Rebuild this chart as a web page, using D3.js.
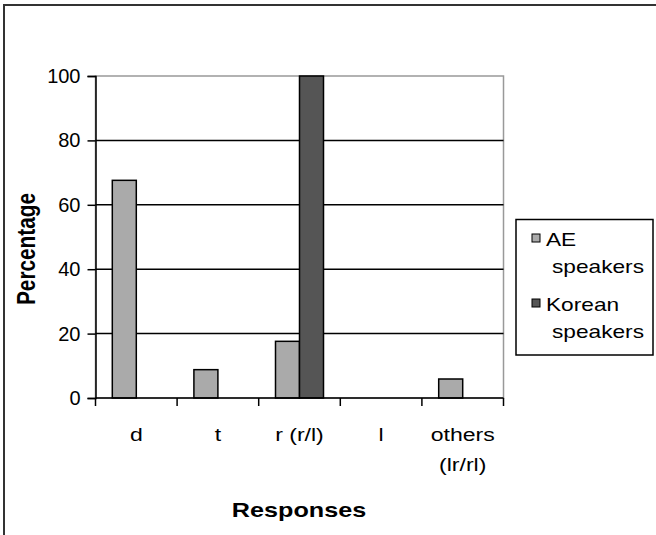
<!DOCTYPE html>
<html>
<head>
<meta charset="utf-8">
<script src="https://cdn.jsdelivr.net/npm/d3@7"></script>
<style>
  body { margin: 0; background: #fff; }
  text { font-family: "Liberation Sans", Arial, sans-serif; fill: #000; }
</style>
</head>
<body>
<div id="chart"></div>
<script>
var width = 656,
    height = 535;

// data
const categories = ["d", "t", "r (r/l)", "l", "others (lr/rl)"];
const series = ["AE speakers", "Korean speakers"];
const aeValues = [67.6, 8.8, 17.6, 0, 5.9];
const koreanValues = [0, 0, 100, 0, 0];
const yTicks = [0, 20, 40, 60, 80, 100];
const colors = ["#aaaaaa", "#555555"];

const plot = { left: 95.5, right: 503.5, top: 76, bottom: 398 };

var svg = d3.select("#chart")
    .append("svg")
    .attr("width", width)
    .attr("height", height);

// outer chart border (runs off the bottom/right edge)
svg.append("rect")
    .attr("x", 4).attr("y", 5)
    .attr("width", 700).attr("height", 600)
    .attr("fill", "none")
    .attr("stroke", "#333")
    .attr("stroke-width", 2);

var x = d3.scaleBand()
    .domain(categories)
    .range([plot.left, plot.right]);

var xSub = d3.scaleBand()
    .domain(series)
    .range([0, x.bandwidth()])
    .paddingOuter(0.7);

var y = d3.scaleLinear()
    .domain([0, 100])
    .range([plot.bottom, plot.top]);

// plot area frame (grey top/right)
svg.append("rect")
    .attr("x", plot.left).attr("y", plot.top)
    .attr("width", plot.right - plot.left)
    .attr("height", plot.bottom - plot.top)
    .attr("fill", "none")
    .attr("stroke", "#999")
    .attr("stroke-width", 1.5);

// gridlines
svg.append("g")
    .selectAll("line")
    .data(yTicks.filter(d => d > 0 && d < 100))
    .join("line")
    .attr("x1", plot.left).attr("x2", plot.right)
    .attr("y1", d => y(d)).attr("y2", d => y(d))
    .attr("stroke", "#000")
    .attr("stroke-width", 1.5);

// bars
const table = [];
categories.forEach(function (c, i) {
    table.push({ cat: c, s: series[0], v: aeValues[i], color: colors[0] });
    table.push({ cat: c, s: series[1], v: koreanValues[i], color: colors[1] });
});

svg.append("g")
    .selectAll("rect")
    .data(table.filter(d => d.v > 0))
    .join("rect")
    .attr("x", d => x(d.cat) + xSub(d.s))
    .attr("y", d => y(d.v))
    .attr("width", xSub.bandwidth())
    .attr("height", d => y(0) - y(d.v))
    .attr("fill", d => d.color)
    .attr("stroke", "#000")
    .attr("stroke-width", 1.5);

// y axis
var yAxis = svg.append("g")
    .attr("transform", "translate(" + plot.left + ",0)")
    .call(d3.axisLeft(y).tickValues(yTicks).tickSize(8).tickPadding(7));
yAxis.select(".domain").attr("stroke", "#000").attr("stroke-width", 1.5);
yAxis.selectAll(".tick line").attr("stroke", "#000").attr("stroke-width", 1.5);
yAxis.selectAll(".tick text")
    .attr("font-size", "20px")
    .attr("font-family", "Liberation Sans, Arial, sans-serif")
    .attr("fill", "#000");

// x axis: line with ticks at band boundaries
var xAxis = svg.append("g");
xAxis.append("line")
    .attr("x1", plot.left).attr("x2", plot.right)
    .attr("y1", y(0)).attr("y2", y(0))
    .attr("stroke", "#000").attr("stroke-width", 1.5);
xAxis.selectAll(".xtick")
    .data(categories.map(c => x(c)).concat([plot.right]))
    .join("line")
    .attr("class", "xtick")
    .attr("x1", d => d).attr("x2", d => d)
    .attr("y1", y(0)).attr("y2", y(0) + 8)
    .attr("stroke", "#000").attr("stroke-width", 1.5);

// category labels (wrapped like the original)
const labelLines = {
    "d": ["d"], "t": ["t"], "r (r/l)": ["r (r/l)"], "l": ["l"],
    "others (lr/rl)": ["others", "(lr/rl)"]
};
categories.forEach(function (c) {
    labelLines[c].forEach(function (line, j) {
        svg.append("text")
            .attr("transform", "translate(" + (x(c) + x.bandwidth() / 2) + "," + (441 + j * 30) + ") scale(1.28,1)")
            .attr("text-anchor", "middle")
            .attr("font-size", "18px")
            .text(line);
    });
});

// axis titles
svg.append("text")
    .attr("transform", "translate(299,517) scale(1.26,1)")
    .attr("text-anchor", "middle")
    .attr("font-size", "20px")
    .attr("font-weight", "bold")
    .text("Responses");

svg.append("text")
    .attr("transform", "translate(35,249) rotate(-90) scale(1.04,1.25)")
    .attr("text-anchor", "middle")
    .attr("font-size", "20px")
    .attr("font-weight", "bold")
    .text("Percentage");

// legend
var legend = svg.append("g");
legend.append("rect")
    .attr("x", 516).attr("y", 219.5)
    .attr("width", 137).attr("height", 135.5)
    .attr("fill", "#fff")
    .attr("stroke", "#000")
    .attr("stroke-width", 1.5);

series.forEach(function (s, i) {
    var top = 234 + i * 65;
    legend.append("rect")
        .attr("x", 532).attr("y", top)
        .attr("width", 8).attr("height", 8)
        .attr("fill", colors[i])
        .attr("stroke", "#000")
        .attr("stroke-width", 1);
    var words = s.split(" ");
    words.forEach(function (w, j) {
        legend.append("text")
            .attr("transform", "translate(" + (j == 0 ? 546 : 552) + "," + (top + 12 + j * 27) + ") scale(1.26,1)")
            .attr("font-size", "18px")
            .text(w);
    });
});
</script>
</body>
</html>
